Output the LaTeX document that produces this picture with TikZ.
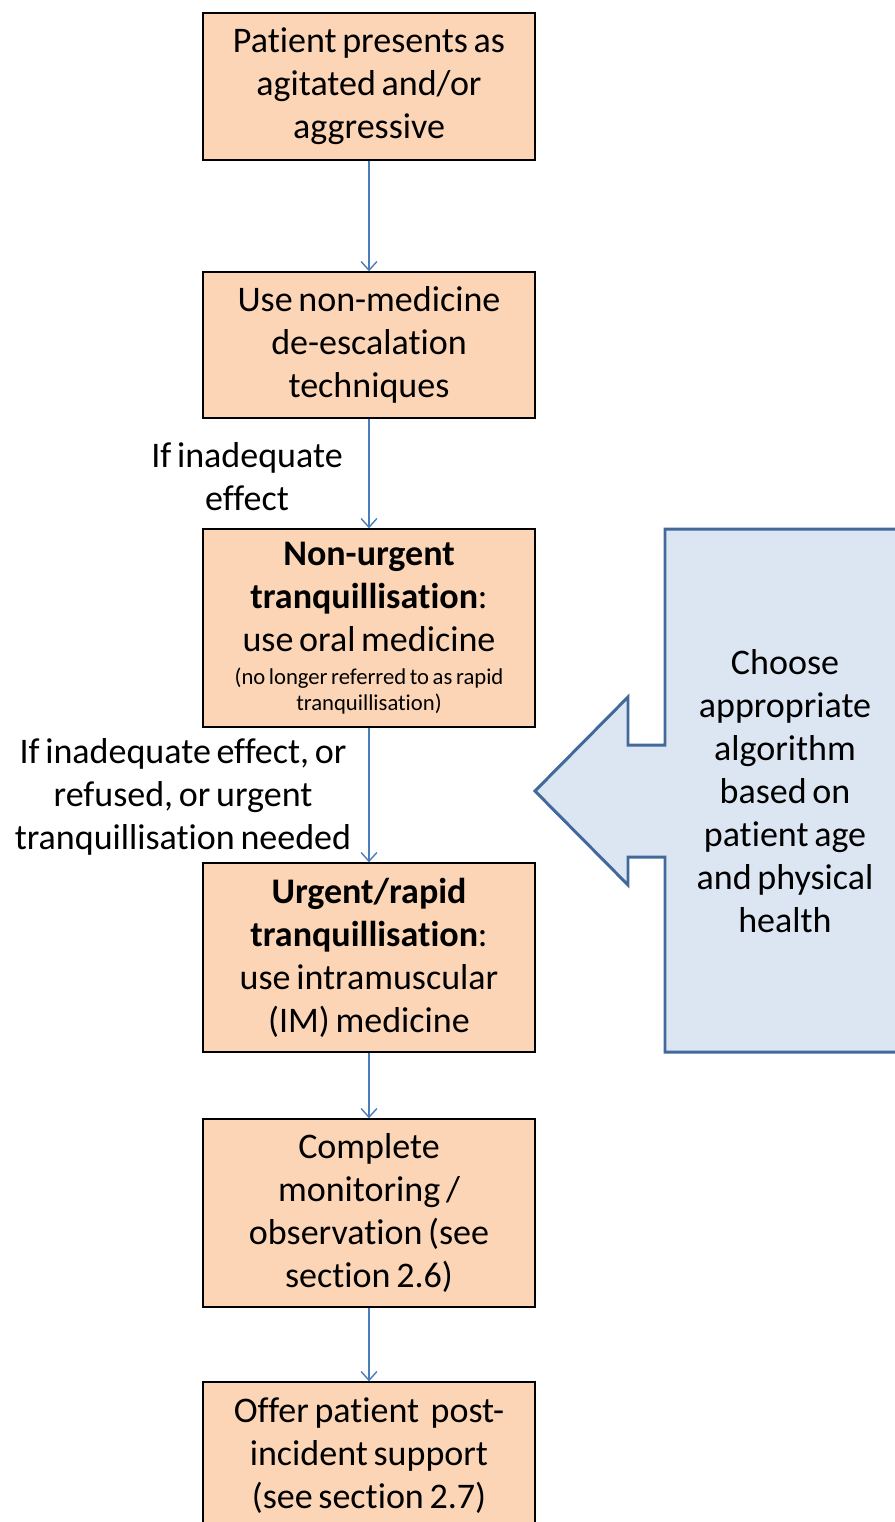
\documentclass[tikz,border=0pt]{standalone}
\usepackage{fontspec}
\setmainfont{Carlito}[WordSpace=0.7, Ligatures=NoCommon]
\usepackage{xcolor}
\usepackage{tikz}
\usetikzlibrary{positioning, arrows.meta}

\definecolor{boxfill}{HTML}{FBD5B5}
\definecolor{algofill}{HTML}{DCE6F2}
\definecolor{algoline}{HTML}{41699A}
\definecolor{link}{HTML}{4A7EBB}

\begin{document}
\begin{tikzpicture}[
    x=0.02cm, y=-0.02cm,
    n/.style={rectangle, draw=black, fill=boxfill, line width=0.8pt, minimum width=6.64cm, text width=6.4cm, inner sep=0pt, align=flush center, font=\fontsize{20.5}{24.5}\selectfont},
    lbl/.style={align=center, font=\fontsize{20.5}{24.5}\selectfont},
    arr/.style={-{Straight Barb[length=5pt, width=9pt]}, line width=0.8pt, link},
    bigarr/.style={draw=algoline, fill=algofill, line width=1.7pt, line join=miter},
]
    \useasboundingbox (0,0) rectangle (895,1522);
    \clip (0,0) rectangle (895,1522);

    \node[n, minimum height=2.94cm] (p1) at (369,86.5) {Patient presents as\\agitated and/or\\aggressive};
    \node[n, minimum height=2.92cm] (p2) at (369,345) {Use non-medicine\\de-escalation\\techniques};
    \node[n, minimum height=3.96cm] (p3) at (369,628) {\textbf{Non-urgent}\\\textbf{tranquillisation}:\\use oral medicine\par\vspace{4pt}
        {\fontsize{12.9}{14.8}\selectfont (no longer referred to as rapid\\tranquillisation)\par}};
    \node[n, minimum height=3.78cm] (p4) at (369,957.5) {\textbf{Urgent/rapid}\\\textbf{tranquillisation}:\\use intramuscular\\(IM) medicine};
    \node[n, minimum height=3.76cm] (p5) at (369,1213) {Complete\\monitoring /\\observation (see\\section 2.6)};
    \node[n, minimum height=2.94cm] (p6) at (369,1455.5) {Offer patient\ \ post-\\incident support\\(see section 2.7)};

    \node[lbl] (l1) at (247,477) {If inadequate\\effect};
    \node[lbl] (l2) at (183,797) {If inadequate effect, or\\refused, or urgent\\tranquillisation needed};

    % arrow pointing back at the tranquillisation steps
    \draw[bigarr] (900,529) -- (665,529) -- (665,745) -- (628,745) -- (628,697) -- (535,791)
        -- (628,885) -- (628,857) -- (665,857) -- (665,1052) -- (900,1052) -- cycle;
    \node[lbl] (algo) at (785,791) {Choose\\appropriate\\algorithm\\based on\\patient age\\and physical\\health};

    \draw[arr] (p1) -- (p2);
    \draw[arr] (p2) -- (p3);
    \draw[arr] (p3) -- (p4);
    \draw[arr] (p4) -- (p5);
    \draw[arr] (p5) -- (p6);
\end{tikzpicture}
\end{document}
